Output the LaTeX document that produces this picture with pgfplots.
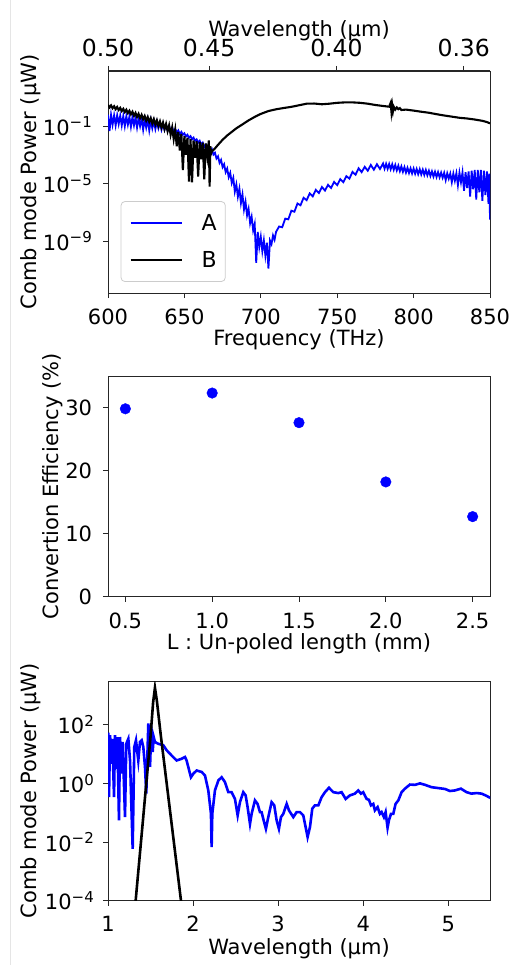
\documentclass[border=0pt]{standalone}
\usepackage{fontspec}
\setmainfont{DejaVu Sans}
\usepackage{pgfplots}
\pgfplotsset{compat=1.18}
\newcommand\tp[1]{10\raisebox{7.5pt}{\fontsize{15}{15}\selectfont #1}}
\pgfplotsset{
  ppanel/.style={
    scale only axis, width=382pt,
    axis line style={line width=1pt, black!85},
    tick style={line width=1pt, black!85},
    tick align=outside, tick pos=left,
    major tick length=5pt,
    minor tick length=0pt,
    tick label style={font=\fontsize{21}{25}\selectfont},
    label style={font=\fontsize{21}{25}\selectfont},
    xticklabel style={anchor=base, inner sep=0pt},
    yticklabel style={anchor=east, inner sep=0pt},
    xlabel style={at={(axis description cs:0.5,0)}, anchor=base},
    ylabel style={anchor=center},
  }
}
\begin{document}
\begin{tikzpicture}
\useasboundingbox (0pt,0pt) rectangle (516pt,-965pt);
\draw[black!10, line width=1pt] (10.5pt,0pt) -- (10.5pt,-965pt);

% ---------- Panel 1 ----------
\begin{axis}[ppanel, at={(108pt,-293pt)}, anchor=south west, height=222pt,
  xmin=600, xmax=850, ymode=log, ymin=2.5e-13, ymax=6.8e2, yminorticks=false,
  xtick={600,650,700,750,800,850}, xticklabels={600,650,700,750,800,850},
  xticklabel style={yshift=-26pt}, yticklabel style={xshift=-11pt},
  ytick={1e-9,1e-5,1e-1}, yticklabels={\tp{−9},\tp{−5},\tp{−1}},
  xlabel={Frequency (THz)}, xlabel style={yshift=-52pt},
  ylabel={Comb mode Power (μW)}, ylabel style={at={(axis description cs:-0.203,0.5)}},
  legend cell align=left,
  legend style={at={(axis description cs:0.033,0.414)}, anchor=north west,
    draw=black!20, rounded corners=4pt, line width=0.8pt,
    font=\fontsize{22}{26}\selectfont, inner xsep=8.6pt, inner ysep=13pt, row sep=19pt,
    nodes={inner sep=0pt},
    /tikz/every odd column/.append style={column sep=19pt}},
  legend image code/.code={\draw[#1, line width=2pt] (0pt,0pt) -- (51pt,0pt);},
]
\addplot[blue, line width=1.8pt] coordinates {
(600,6.31e-1)(601,4.47e-2)(602,6.03e-1)(603,1.26e-1)(604,5.62e-1)(605,1.12e-1)(606,5.62e-1)(607,1.41e-1)(608,5.25e-1)(609,1.12e-1)(610,5.01e-1)(611,1e-1)(612,4.79e-1)(613,1.26e-1)(614,4.47e-1)(615,8.91e-2)(616,4.27e-1)(617,1.12e-1)(618,3.98e-1)(619,7.94e-2)(620,3.55e-1)(621,1e-1)(622,3.31e-1)(623,5.62e-2)(624,3.02e-1)(625,7.94e-2)(626,2.82e-1)(627,5.01e-2)(628,2.51e-1)(629,7.08e-2)(630,2.24e-1)(631,6.31e-2)(632,2e-1)(633,7.08e-2)(634,1.66e-1)(635,5.62e-2)(636,1.41e-1)(637,5.62e-2)(638,1.2e-1)(639,5.01e-2)(640,1e-1)(641,4.47e-2)(642,7.94e-2)(643,3.98e-2)(644,6.31e-2)(645,3.55e-2)(646,5.01e-2)(647,2.82e-2)(648,3.98e-2)(649,2.51e-2)(650,3.16e-2)(651,1.91e-2)(652,2.51e-2)(653,1.51e-2)(654,2e-2)(655,1.2e-2)(656,1.58e-2)(657,9.55e-3)(658,1.2e-2)(659,7.08e-3)(660,9.55e-3)(661,5.25e-3)(662,7.08e-3)(663,3.55e-3)(664,5.01e-3)(665,2.51e-3)(666,3.8e-3)(667,1.66e-3)(668,2.51e-3)(669,1.05e-3)(670,1.41e-3)(671,5.62e-4)(672,7.94e-4)(673,2.82e-4)(674,4.47e-4)(675,1.41e-4)(676,2.24e-4)(677,6.31e-5)(678,1.12e-4)(679,2.82e-5)(680,5.62e-5)(681,1.12e-5)(682,2.51e-5)(683,2.82e-6)(684,8.91e-6)(685,1.26e-6)(686,4.47e-6)(687,4.47e-7)(688,1.78e-6)(689,1.58e-7)(690,5.62e-7)(691,6.31e-8)(692,1.78e-7)(693,1.78e-8)(694,5.01e-8)(695,5.62e-9)(696,1.58e-8)(697,3.16e-11)(698,4.47e-9)(699,3.98e-10)(700,2e-9)(701,2e-10)(702,1.12e-9)(703,1e-10)(704,7.94e-10)(705,1.26e-11)(706,1.12e-9)(707,6.31e-10)(708,2.51e-9)(709,1.26e-9)(710,4.47e-9)(712,1.05e-8)(714,9.33e-9)(716,3.72e-8)(718,3.31e-8)(720,1.32e-7)(722,1.12e-7)(724,4.17e-7)(726,3.16e-7)(728,1.05e-6)(730,7.08e-7)(732,2.09e-6)(734,1.32e-6)(736,3.72e-6)(738,2.24e-6)(740,5.89e-6)(742,3.31e-6)(744,8.32e-6)(746,5.01e-6)(748,1.32e-5)(750,7.94e-6)(752,2.09e-5)(754,1.26e-5)(756,3.31e-5)(758,2.24e-5)(760,6.61e-5)(762,4.17e-5)(764,1.17e-4)(766,6.31e-5)(768,1.48e-4)(770,7.94e-5)(772,2e-4)(774,9.33e-5)(776,2.24e-4)(778,1.05e-4)(780,2.51e-4)(781,1.1e-4)(782,2.4e-4)(783,1.07e-4)(784,2.34e-4)(785,1e-4)(786,2.19e-4)(787,9.33e-5)(788,2e-4)(789,8.32e-5)(790,1.78e-4)(791,7.41e-5)(792,1.58e-4)(793,6.61e-5)(794,1.41e-4)(795,5.89e-5)(796,1.26e-4)(797,5.5e-5)(798,1.17e-4)(799,5.13e-5)(800,1.12e-4)(801,4.9e-5)(802,1.05e-4)(803,4.57e-5)(804,1e-4)(805,4.37e-5)(806,9.33e-5)(807,4.07e-5)(808,8.91e-5)(809,3.8e-5)(810,7.94e-5)(811,3.39e-5)(812,7.08e-5)(813,3.09e-5)(814,6.76e-5)(815,2.88e-5)(816,6.31e-5)(817,2.75e-5)(818,5.89e-5)(819,2.57e-5)(820,5.62e-5)(821,1.78e-5)(822,5.25e-5)(823,2.24e-5)(824,5.01e-5)(825,1.26e-5)(826,5.01e-5)(827,1.58e-5)(828,5.25e-5)(829,7.94e-6)(830,5.62e-5)(831,1.26e-5)(832,6.03e-5)(833,3.16e-6)(834,6.31e-5)(835,5.01e-6)(836,7.08e-5)(837,1.26e-6)(838,7.94e-5)(839,3.98e-6)(840,8.91e-5)(841,7.94e-7)(842,8.91e-5)(843,2.51e-6)(844,8.91e-5)(845,6.31e-7)(846,7.94e-5)(847,1.58e-6)(848,7.08e-5)(849,3.98e-7)(849.5,5.01e-5)(850,3.16e-8)
};
\addlegendentry{A}
\addplot[black, line width=2.1pt] coordinates {
(600,3.02)(601,2.0)(602,2.75)(603,1.74)(604,2.4)(605,1.51)(606,2.14)(607,1.32)(608,1.86)(609,1.12)(610,1.58)(611,9.55e-1)(612,1.38)(613,7.94e-1)(614,1.17)(615,6.61e-1)(616,1.0)(617,5.25e-1)(618,8.32e-1)(619,4.37e-1)(620,7.08e-1)(621,3.55e-1)(622,6.03e-1)(623,3.02e-1)(624,5.01e-1)(625,2.4e-1)(626,4.27e-1)(627,2e-1)(628,3.55e-1)(629,1.51e-1)(630,3.02e-1)(631,1.26e-1)(632,2.51e-1)(633,1e-1)(634,2.09e-1)(635,7.94e-2)(636,1.74e-1)(637,6.03e-2)(638,1.41e-1)(639,4.47e-2)(640,1.12e-1)(641,2.51e-2)(642,7.94e-2)(643,1.26e-2)(644,5.62e-2)(645,3.98e-3)(646,3.98e-2)(647,2e-3)(648,2.82e-2)(649,8.91e-5)(650,2e-2)(651,1e-3)(652,1.58e-2)(653,1.41e-5)(654,1.26e-2)(655,1.26e-5)(656,1e-2)(657,6.31e-4)(658,8.91e-3)(659,3.16e-5)(660,7.94e-3)(661,5.01e-4)(662,7.08e-3)(663,2e-5)(664,6.31e-3)(665,7.94e-4)(666,1e-2)(666.5,6.31e-6)(667,3.98e-3)(667.5,1.26e-3)(668,1.78e-3)(670,2.82e-3)(672,5.01e-3)(675,1.12e-2)(678,2.24e-2)(681,3.98e-2)(684,7.08e-2)(688,1.32e-1)(692,2.51e-1)(696,4.37e-1)(700,7.08e-1)(705,1.12)(710,1.48)(715,1.82)(720,2.19)(725,2.82)(730,3.63)(735,3.72)(740,3.31)(745,3.63)(750,4.17)(755,4.47)(760,4.47)(765,4.17)(770,3.63)(775,2.95)(780,2.51)(784,2.24)(785,4.17)(785.5,1.0)(786,2.82)(786.5,1.12)(787,2.24)(788,1.41)(789,2.0)(790,1.51)(791,1.78)(792,1.32)(795,1.41)(800,1.2)(805,1.0)(810,8.51e-1)(815,6.76e-1)(820,5.5e-1)(825,4.57e-1)(830,3.8e-1)(835,3.39e-1)(840,2.88e-1)(845,2.34e-1)(848,1.91e-1)(850,1.55e-1)
};
\addlegendentry{B}
\end{axis}

% top wavelength axis of panel 1
\begin{axis}[ppanel, at={(108pt,-293pt)}, anchor=south west, height=222pt,
  xmin=600, xmax=850, ymin=0, ymax=1,
  axis x line*=top, axis y line=none, xtick pos=right, xtick align=outside,
  xtick={600,666.2,749.5,832.8}, xticklabels={0.50,0.45,0.40,0.36},
  xticklabel style={font=\fontsize{23.5}{27}\selectfont, yshift=9pt},
  xlabel={Wavelength (μm)},
  xlabel style={at={(axis description cs:0.5,1)}, anchor=base, yshift=34pt},
]
\end{axis}

% ---------- Panel 2 ----------
\begin{axis}[ppanel, at={(108pt,-596.7pt)}, anchor=south west, height=220.7pt,
  xmin=0.4, xmax=2.6, ymin=0, ymax=35,
  xtick={0.5,1,1.5,2,2.5}, xticklabels={0.5,1.0,1.5,2.0,2.5},
  ytick={0,10,20,30}, yticklabels={0,10,20,30},
  xticklabel style={yshift=-26.6pt}, yticklabel style={xshift=-10.7pt},
  xlabel={L : Un-poled length (mm)}, xlabel style={yshift=-52.6pt},
  ylabel={Convertion Efficiency (\%)}, ylabel style={at={(axis description cs:-0.145,0.5)}},
]
\addplot[only marks, mark=*, mark size=5.3pt, mark options={draw=blue, fill=blue}] coordinates {
(0.5,29.8)(1.0,32.3)(1.5,27.6)(2.0,18.2)(2.5,12.7)
};
\end{axis}

% ---------- Panel 3 ----------
\begin{axis}[ppanel, at={(108pt,-900.7pt)}, anchor=south west, height=219.7pt,
  xmin=1, xmax=5.49, ymode=log, ymin=1e-4, ymax=3090, yminorticks=false,
  xtick={1,2,3,4,5}, xticklabels={1,2,3,4,5},
  ytick={1e-4,1e-2,1,1e2}, yticklabels={\tp{−4},\tp{−2},\tp{0},\tp{2}},
  xticklabel style={yshift=-26pt}, yticklabel style={xshift=-9pt},
  xlabel={Wavelength (μm)}, xlabel style={yshift=-53.6pt},
  ylabel={Comb mode Power (μW)}, ylabel style={at={(axis description cs:-0.203,0.5)}},
]
\addplot[blue, line width=2.6pt] coordinates {
(1.000,49.0)(1.004,49.0)(1.012,0.339)(1.024,43.7)(1.043,4.68)(1.051,33.1)(1.071,0.339)(1.082,43.7)(1.102,3.16)(1.110,38.0)(1.129,0.055)(1.141,38.0)(1.161,2.14)(1.172,25.7)(1.200,0.0708)(1.215,22.4)(1.239,33.1)(1.259,6.03)(1.290,0.00589)(1.309,17.4)(1.329,29.5)(1.356,6.03)(1.376,25.7)(1.396,29.5)(1.415,17.4)(1.435,3.63)(1.450,0.447)(1.466,17.4)(1.474,110)(1.486,43.7)(1.494,3.63)(1.505,33.1)(1.513,43.7)(1.525,11.7)(1.537,38.0)(1.552,25.7)(1.591,22.4)(1.650,20.0)(1.689,13.5)(1.748,8.91)(1.807,6.03)(1.866,6.92)(1.905,7.94)(1.924,6.03)(1.964,2.14)(1.975,1.62)(2.003,2.14)(2.042,2.75)(2.101,2.45)(2.140,1.86)(2.179,0.575)(2.210,0.0933)(2.218,0.00676)(2.226,0.0933)(2.257,0.575)(2.297,1.26)(2.336,1.62)(2.375,1.10)(2.414,0.501)(2.453,0.501)(2.492,0.295)(2.524,0.0813)(2.551,0.229)(2.590,0.501)(2.618,0.389)(2.641,0.155)(2.669,0.0417)(2.688,0.0912)(2.727,0.263)(2.758,0.200)(2.786,0.105)(2.805,0.105)(2.825,0.0617)(2.856,0.0282)(2.884,0.0708)(2.923,0.229)(2.954,0.178)(2.982,0.055)(3.009,0.0282)(3.033,0.0708)(3.060,0.0912)(3.100,0.200)(3.127,0.120)(3.178,0.0708)(3.217,0.105)(3.256,0.105)(3.295,0.0813)(3.323,0.0324)(3.346,0.0148)(3.374,0.0324)(3.401,0.138)(3.432,0.178)(3.472,0.178)(3.511,0.339)(3.550,0.501)(3.597,0.708)(3.648,0.501)(3.707,0.468)(3.746,0.501)(3.793,0.295)(3.843,0.389)(3.902,0.447)(3.941,0.575)(3.973,0.447)(4.000,0.501)(4.040,0.295)(4.067,0.275)(4.091,0.178)(4.118,0.200)(4.137,0.120)(4.169,0.155)(4.196,0.0912)(4.216,0.105)(4.243,0.0708)(4.263,0.105)(4.286,0.0309)(4.302,0.055)(4.326,0.0912)(4.353,0.0912)(4.380,0.200)(4.412,0.263)(4.451,0.501)(4.490,0.661)(4.549,0.912)(4.608,0.891)(4.667,1.0)(4.726,0.891)(4.804,0.741)(4.882,0.692)(4.960,0.646)(5.019,0.550)(5.078,0.575)(5.148,0.661)(5.215,0.501)(5.273,0.447)(5.332,0.468)(5.391,0.447)(5.438,0.389)(5.477,0.339)(5.500,0.316)
};
\addplot[black, line width=2.6pt] coordinates {
(1.30,1.58e-5)(1.325,1e-4)(1.40,0.0251)(1.50,39.8)(1.53,562)(1.552,1820)(1.575,631)(1.62,44.7)(1.75,0.0372)(1.858,1e-4)(1.90,1.02e-5)
};
\end{axis}
\end{tikzpicture}
\end{document}
